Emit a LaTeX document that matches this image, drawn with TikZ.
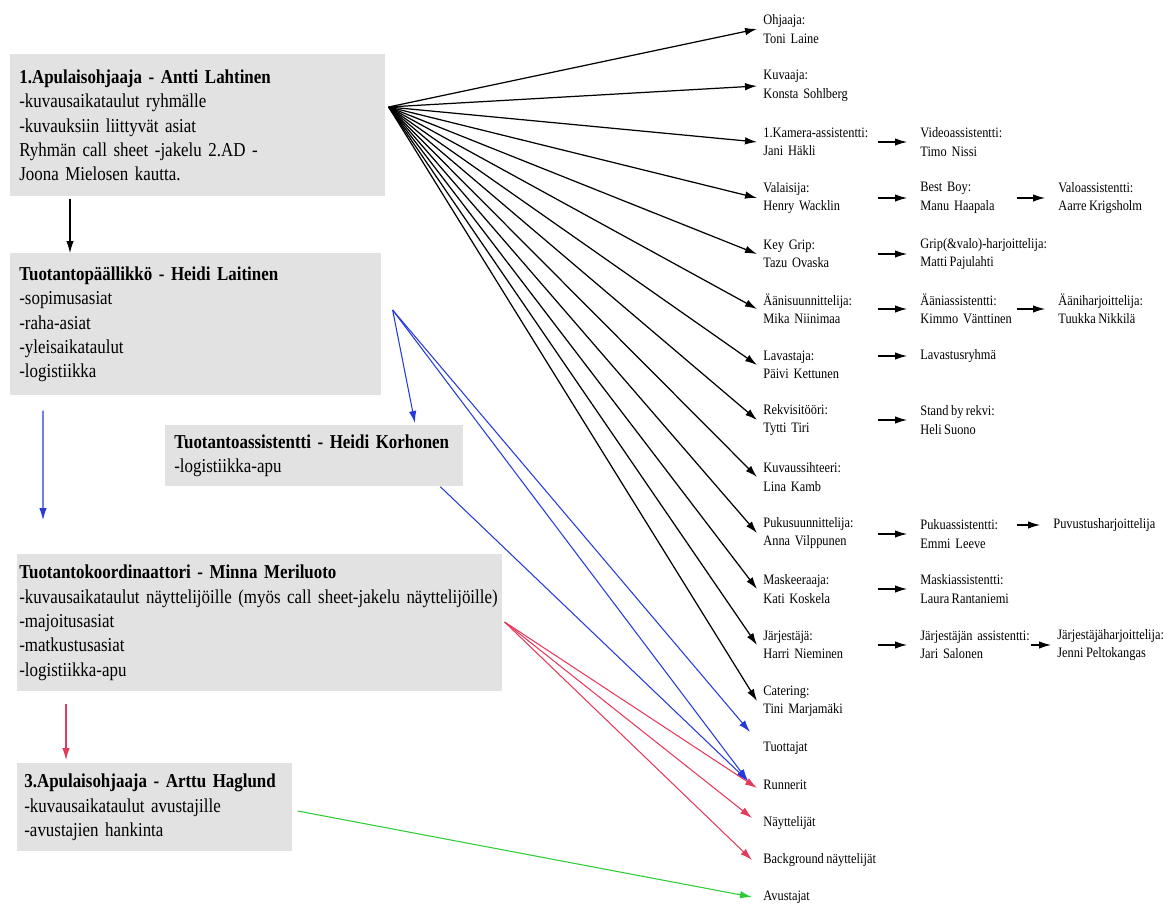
\documentclass[tikz,border=0pt]{standalone}
\usepackage{fontspec}
\setmainfont{Liberation Serif}[FakeStretch=0.86, WordSpace=0.8]
\usetikzlibrary{arrows.meta}
\definecolor{boxgray}{RGB}{226,226,226}
\definecolor{linkblue}{RGB}{38,58,218}
\definecolor{linkred}{RGB}{230,58,92}
\definecolor{linkgreen}{RGB}{46,204,52}
\hyphenpenalty=10000
\exhyphenpenalty=10000

\begin{document}
\begin{tikzpicture}[x=0.02cm, y=-0.02cm,
  role/.style={fill=boxgray, anchor=north west, align=left, inner xsep=0.18cm,
    inner ysep=0pt, font=\fontsize{11.2}{13.9}\selectfont},
  crew/.style={anchor=west, align=left, inner xsep=0.12cm, inner ysep=0.04cm,
    font=\fontsize{8.2}{10.5}\selectfont},
  col1/.style={crew, text width=2.16cm},
  col2/.style={crew, text width=1.8cm},
  tip/.style={-{Latex[length=0.24cm,width=0.15cm]}, line width=0.7pt},
  sub/.style={tip, shorten >=0.14cm}]
  \useasboundingbox (0,0) rectangle (1175,905);

  \node[role, text width=7.14cm, minimum height=2.84cm] (apu1) at (10,54)
    {\textbf{1.Apulaisohjaaja - Antti Lahtinen}\\-kuvausaikataulut ryhmälle\\-kuvauksiin liittyvät asiat\\Ryhmän call sheet -jakelu 2.AD -\\Joona Mielosen kautta.};
  \node[role, text width=7.06cm, minimum height=2.84cm] (tpk) at (10,253)
    {\textbf{Tuotantopäällikkö - Heidi Laitinen}\\-sopimusasiat\\-raha-asiat\\-yleisaikataulut\\-logistiikka};
  \node[role, text width=5.6cm, minimum height=1.22cm] (tass) at (165,425)
    {\textbf{Tuotantoassistentti~-~Heidi~Korhonen}\\-logistiikka-apu};
  \node[role, inner xsep=0.04cm, text width=9.62cm, minimum height=2.74cm] (koord) at (17,554)
    {\textbf{Tuotantokoordinaattori - Minna Meriluoto}\\\mbox{-kuvausaikataulut näyttelijöille (myös call sheet-jakelu näyttelijöille)}\\-majoitusasiat\\-matkustusasiat\\-logistiikka-apu};
  \node[role, inner xsep=0.14cm, text width=5.22cm, minimum height=1.76cm] (apu3) at (17,763)
    {\textbf{3.Apulaisohjaaja - Arttu Haglund}\\-kuvausaikataulut avustajille\\-avustajien hankinta};

  \node[col1] (ohj) at (757,29) {Ohjaaja:\\Toni Laine};
  \node[col1] (kuv) at (757,86) {Kuvaaja:\\Konsta Sohlberg};
  \node[col1] (kam) at (757,142) {1.Kamera-assistentti:\\Jani Häkli};
  \node[col1] (val) at (757,198) {Valaisija:\\Henry Wacklin};
  \node[col1] (grip) at (757,254) {Key Grip:\\Tazu Ovaska};
  \node[col1] (aani) at (757,309) {Äänisuunnittelija:\\Mika Niinimaa};
  \node[col1] (lav) at (757,365) {Lavastaja:\\Päivi Kettunen};
  \node[col1] (rek) at (757,420) {Rekvisitööri:\\Tytti Tiri};
  \node[col1] (sih) at (757,477) {Kuvaussihteeri:\\Lina Kamb};
  \node[col1] (puku) at (757,533) {Pukusuunnittelija:\\Anna Vilppunen};
  \node[col1] (mask) at (757,589) {Maskeeraaja:\\Kati Koskela};
  \node[col1] (jarj) at (757,645) {Järjestäjä:\\Harri Nieminen};
  \node[col1] (cat) at (757,701) {Catering:\\Tini Marjamäki};
  \node[crew] (tuot) at (757,748) {Tuottajat};
  \node[crew] (run) at (757,785) {Runnerit};
  \node[crew] (nay) at (757,823) {Näyttelijät};
  \node[crew] (bg) at (757,860) {Background näyttelijät};
  \node[crew] (avu) at (757,897) {Avustajat};

  \node[col2] (vid) at (914,142) {Videoassistentti:\\Timo Nissi};
  \node[col2] (best) at (914,198) {Best Boy:\\Manu Haapala};
  \node[crew] (gripa) at (914,254) {Grip(\&valo)-harjoittelija:\\Matti Pajulahti};
  \node[col2] (aania) at (914,309) {Ääniassistentti:\\Kimmo~Vänttinen};
  \node[crew] (lavr) at (914,356) {Lavastusryhmä};
  \node[crew] (stand) at (914,420) {Stand by rekvi:\\Heli Suono};
  \node[col2] (pukua) at (914,534) {Pukuassistentti:\\Emmi Leeve};
  \node[crew] (maska) at (914,589) {Maskiassistentti:\\Laura Rantaniemi};
  \node[col2, text width=2.08cm] (jarja) at (914,645) {Järjestäjän~assistentti:\\Jari Salonen};

  \node[crew] (valo) at (1052,198) {Valoassistentti:\\Aarre Krigsholm};
  \node[crew] (aanih) at (1052,309) {Ääniharjoittelija:\\Tuukka Nikkilä};
  \node[crew] (puvh) at (1047,525) {Puvustusharjoittelija};
  \node[crew] (jarjh) at (1051,645) {Järjestäjäharjoittelija:\\Jenni Peltokangas};

  \coordinate (hubA) at ([xshift=0.06cm,yshift=-1.06cm]apu1.north east);
  \coordinate (hubB) at ([xshift=0.22cm,yshift=-1.14cm]tpk.north east);
  \coordinate (hubC) at ([xshift=0.04cm,yshift=-1.36cm]koord.north east);

  \draw[tip] (hubA) -- (ohj.west);
  \draw[tip] (hubA) -- (kuv.west);
  \draw[tip] (hubA) -- (kam.west);
  \draw[tip] (hubA) -- (val.west);
  \draw[tip] (hubA) -- (grip.west);
  \draw[tip] (hubA) -- (aani.west);
  \draw[tip] (hubA) -- (lav.west);
  \draw[tip] (hubA) -- (rek.west);
  \draw[tip] (hubA) -- (sih.west);
  \draw[tip] (hubA) -- (puku.west);
  \draw[tip] (hubA) -- (mask.west);
  \draw[tip] (hubA) -- (jarj.west);
  \draw[tip] (hubA) -- (cat.west);

  \draw[sub] (vid.west -| kam.east) -- (vid.west);
  \draw[sub] (best.west -| val.east) -- (best.west);
  \draw[sub] (gripa.west -| grip.east) -- (gripa.west);
  \draw[sub] (aania.west -| aani.east) -- (aania.west);
  \draw[sub] (lavr.west -| lav.east) -- (lavr.west);
  \draw[sub] (stand.west -| rek.east) -- (stand.west);
  \draw[sub] (pukua.west -| puku.east) -- (pukua.west);
  \draw[sub] (maska.west -| mask.east) -- (maska.west);
  \draw[sub] (jarja.west -| jarj.east) -- (jarja.west);
  \draw[sub] (valo.west -| best.east) -- (valo.west);
  \draw[sub] (aanih.west -| aania.east) -- (aanih.west);
  \draw[sub] (puvh.west -| pukua.east) -- (puvh.west);
  \draw[tip] (jarjh.west -| jarja.east) -- (jarjh.west);

  \draw[tip, line width=0.6pt] ([xshift=1.2cm,yshift=-0.04cm]apu1.south west) -- ([xshift=1.2cm]tpk.north west);
  \draw[tip, line width=0.6pt, linkblue] ([xshift=0.66cm,yshift=-0.3cm]tpk.south west) -- ([xshift=0.52cm,yshift=0.68cm]koord.north west);
  \draw[tip, line width=0.6pt, linkred] ([xshift=0.98cm,yshift=-0.24cm]koord.south west) -- ([xshift=0.98cm,yshift=0.06cm]apu3.north west);

  \draw[tip, line width=0.6pt, linkblue] (hubB) -- ([xshift=5cm,yshift=0.04cm]tass.north west);
  \draw[tip, line width=0.6pt, linkblue] (hubB) -- ([xshift=-0.14cm,yshift=0.32cm]tuot.west);
  \draw[tip, line width=0.6pt, linkblue] (hubB) -- ([xshift=-0.18cm,yshift=0.08cm]run.west);
  \draw[tip, line width=0.6pt, linkblue] ([xshift=2.52cm]tass.south) -- ([xshift=-0.18cm,yshift=0.08cm]run.west);

  \draw[tip, line width=0.6pt, linkred] (hubC) -- ([yshift=-0.06cm]run.west);
  \draw[tip, line width=0.6pt, linkred] (hubC) -- ([xshift=-0.1cm,yshift=0.1cm]nay.west);
  \draw[tip, line width=0.6pt, linkred] (hubC) -- ([xshift=-0.1cm]bg.west);

  \draw[tip, line width=0.6pt, linkgreen] ([xshift=0.1cm,yshift=-0.96cm]apu3.north east) -- ([xshift=-0.1cm]avu.west);
\end{tikzpicture}
\end{document}
